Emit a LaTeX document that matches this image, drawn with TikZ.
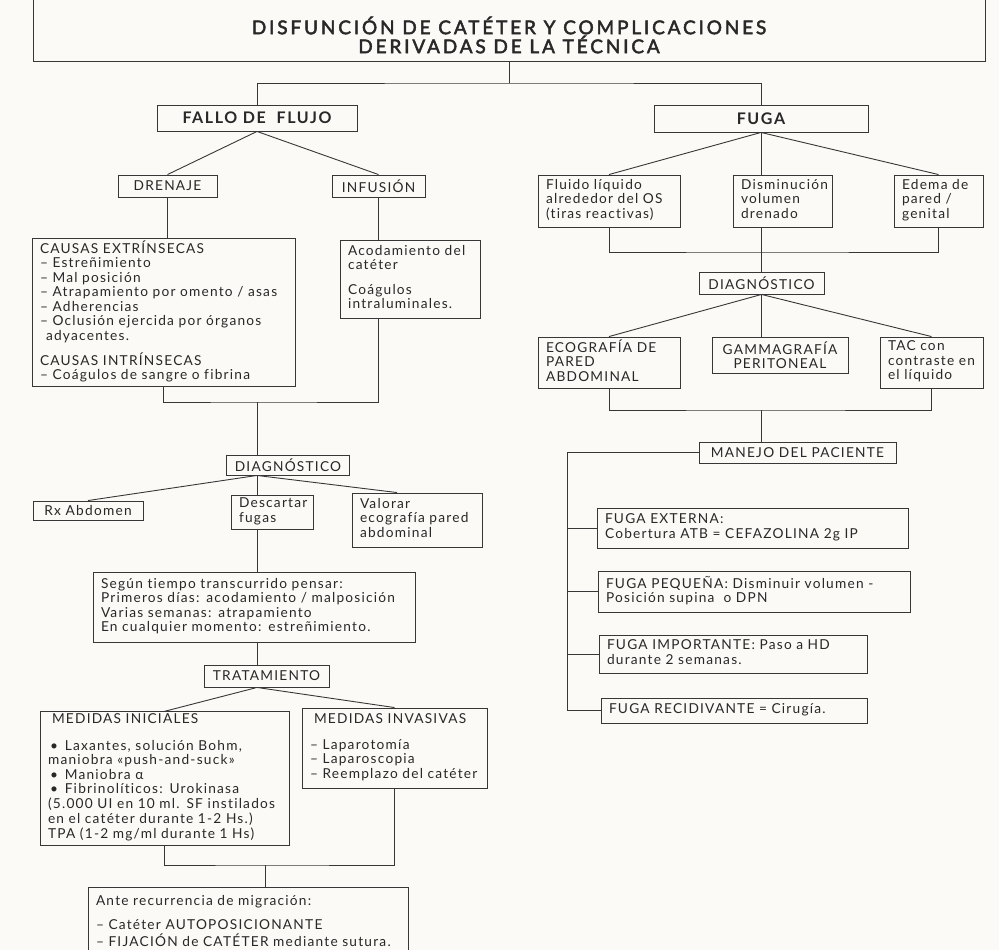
\documentclass[tikz,border=0pt]{standalone}
\usepackage{fontspec}
\setmainfont{Lato}
\newfontfamily\bodyf[LetterSpace=9,Ligatures=NoCommon]{Lato}
\newfontfamily\boldf[LetterSpace=10,Ligatures=NoCommon]{Lato Bold}
\newfontfamily\titlef[LetterSpace=15,FakeBold=2.5,Ligatures=NoCommon]{Lato}
\newcommand\tb[1]{\begin{tabular}{@{}l@{}}#1\end{tabular}}
\definecolor{ink}{RGB}{40,40,40}
\definecolor{linec}{RGB}{55,55,55}
\definecolor{paper}{RGB}{252,250,247}
\begin{document}
\begin{tikzpicture}[x=1pt,y=-1pt,
  box/.style={draw=linec, line width=0.9pt, text=ink, inner xsep=8pt, inner ysep=2pt,
    font=\bodyf\fontsize{13.7}{14.5}\selectfont},
  lbox/.style={box, align=left},
  cbox/.style={box, align=center},
  bigbox/.style={cbox, font=\boldf\fontsize{16}{18}\selectfont},
  conn/.style={draw=linec, line width=0.9pt}]
\fill[paper] (0,0) rectangle (999,950);
\useasboundingbox (0,0) rectangle (999,950);

% title
\node[draw=linec, line width=0.9pt, minimum width=952pt, minimum height=80pt, inner sep=0pt] (titlebox) at (509,21) {};
\node[text=ink, font=\titlef\fontsize{19}{19}\selectfont, align=center] (title) at (509,35)
  {DISFUNCIÓN DE CATÉTER Y COMPLICACIONES\\DERIVADAS DE LA TÉCNICA};

% left branch
\node[bigbox, minimum width=200pt, minimum height=26pt] (fallo) at (257,118) {FALLO DE \ FLUJO};
\node[cbox, minimum width=99pt, minimum height=22pt] (drenaje) at (167.5,186) {DRENAJE};
\node[cbox, minimum width=93pt, minimum height=22pt] (infusion) at (378.5,186) {INFUSIÓN};
\node[lbox, text width=247pt, minimum height=145pt] (causas) at (163.5,312.5)
  {\tb{CAUSAS EXTRÍNSECAS\\– Estreñimiento\\– Mal posición\\– Atrapamiento por omento / asas\\– Adherencias\\– Oclusión ejercida por órganos\\\hspace*{6pt}adyacentes.\\[8pt]CAUSAS INTRÍNSECAS\\– Coágulos de sangre o fibrina}};
\node[lbox, text width=124pt, minimum height=78pt] (acod) at (410,279)
  {\tb{Acodamiento del\\catéter\\[10pt]Coágulos\\intraluminales.}};
\node[cbox, minimum width=120pt, minimum height=20pt] (diagL) at (288,465) {DIAGNÓSTICO};
\node[cbox, minimum width=110pt, minimum height=19pt] (rx) at (88,510.5) {Rx Abdomen};
\node[lbox, text width=66pt, minimum height=34pt] (desc) at (272,512) {\tb{Descartar\\fugas}};
\node[lbox, text width=114pt, minimum height=54pt] (val) at (417,520) {\tb{Valorar\\ecografía pared\\abdominal}};
\node[lbox, text width=306pt, minimum height=70pt] (segun) at (254,607)
  {\tb{Según tiempo transcurrido pensar:\\Primeros días: acodamiento / malposición\\Varias semanas: atrapamiento\\En cualquier momento: estreñimiento.}};
\node[cbox, minimum width=125pt, minimum height=22pt] (trat) at (266.5,676) {TRATAMIENTO};
\node[lbox, text width=233pt, minimum height=133pt] (mi) at (164.5,778.5)
  {\tb{\hspace*{4pt}MEDIDAS INICIALES\\[12pt]\hspace*{2pt}• \,Laxantes, solución Bohm,\\maniobra «push-and-suck»\\\hspace*{2pt}• \,Maniobra α\\\hspace*{2pt}• \,Fibrinolíticos: Urokinasa\\(5.000 UI en 10 ml. SF instilados\\en el catéter durante 1-2 Hs.)\\TPA (1-2 mg/ml durante 1 Hs)}};
\node[lbox, text width=169pt, minimum height=80pt] (minv) at (394.5,748)
  {\tb{\hspace*{4pt}MEDIDAS INVASIVAS\\[11pt]– Laparotomía\\– Laparoscopia\\– Reemplazo del catéter}};
\node[lbox, text width=304pt, minimum height=72pt] (ante) at (248,923)
  {\tb{Ante recurrencia de migración:\\[9pt]– Catéter AUTOPOSICIONANTE\\– FIJACIÓN de CATÉTER mediante sutura.}};

% right branch
\node[bigbox, minimum width=214pt, minimum height=27pt] (fuga) at (761,118.5) {FUGA};
\node[lbox, text width=126pt, minimum height=52pt] (fluido) at (609,201) {\tb{Fluido líquido\\alrededor del OS\\(tiras reactivas)}};
\node[lbox, text width=83pt, minimum height=52pt] (dism) at (782.5,201) {\tb{Disminución\\volumen\\drenado}};
\node[lbox, text width=73pt, minimum height=52pt] (edema) at (938.5,201) {\tb{Edema de\\pared /\\genital}};
\node[cbox, minimum width=125pt, minimum height=22pt] (diagR) at (761.5,283) {DIAGNÓSTICO};
\node[lbox, text width=126pt, minimum height=51pt] (eco) at (609,362.5) {\tb{ECOGRAFÍA DE\\PARED\\ABDOMINAL}};
\node[cbox, minimum width=136pt, minimum height=36pt] (gamma) at (780,355) {GAMMAGRAFÍA\\PERITONEAL};
\node[lbox, text width=87pt, minimum height=51pt] (tac) at (931.5,362.5) {\tb{TAC con\\contraste en\\el líquido}};
\node[cbox, minimum width=197pt, minimum height=21pt] (manejo) at (797.5,452.5) {MANEJO DEL PACIENTE};
\node[lbox, text width=295pt, minimum height=40pt] (fext) at (752.5,528) {\tb{FUGA EXTERNA:\\Cobertura ATB = CEFAZOLINA 2g IP}};
\node[lbox, text width=296pt, minimum height=41pt] (fpeq) at (754,591.5) {\tb{FUGA PEQUEÑA: Disminuir volumen -\\Posición supina \ o DPN}};
\node[lbox, text width=252pt, minimum height=38pt] (fimp) at (733,654) {\tb{FUGA IMPORTANTE: Paso a HD\\durante 2 semanas.}};
\node[lbox, text width=250pt, minimum height=25pt] (frec) at (734,710.5) {\tb{FUGA RECIDIVANTE = Cirugía.}};

% junction coordinates
\coordinate (tj) at (509,83);
\coordinate (lj) at (257,402);
\coordinate (lj2) at (265,865);
\coordinate (rj1) at (761,252);
\coordinate (rj2) at (761,410);
\coordinate (tr) at (567,0);

% connectors: top
\draw[conn] (titlebox.south) -- (tj);
\draw[conn] (fallo.north) |- (tj) -| (fuga.north);
% left
\draw[conn] (fallo.south) -- (drenaje.north);
\draw[conn] (fallo.south) -- (infusion.north);
\draw[conn] (drenaje.south) -- (drenaje.south |- causas.north);
\draw[conn] (infusion.south) -- (infusion.south |- acod.north);
\draw[conn] (causas.south) |- (lj) -| (infusion.south |- acod.south);
\draw[conn] (lj) -- (lj |- diagL.north);
\draw[conn] (lj |- diagL.south) -- (rx.north);
\draw[conn] (lj |- diagL.south) -- (lj |- desc.north);
\draw[conn] (lj |- diagL.south) -- ([xshift=-20pt]val.north);
\draw[conn] (lj |- desc.south) -- (lj |- segun.north);
\draw[conn] (lj |- segun.south) -- (lj |- trat.north);
\draw[conn] (lj |- trat.south) -- (mi.north);
\draw[conn] (lj |- trat.south) -- (minv.north);
\draw[conn] (mi.south) |- (lj2) -| (minv.south);
\draw[conn] (lj2) -- (lj2 |- ante.north);
% right
\draw[conn] (fuga.south) -- (fluido.north);
\draw[conn] (fuga.south) -- (fuga.south |- dism.north);
\draw[conn] (fuga.south) -- (edema.north);
\draw[conn] (fluido.south) |- (rj1) -| (edema.south);
\draw[conn] (rj1 |- dism.south) -- (rj1 |- diagR.north);
\draw[conn] (diagR.south) -- (eco.north);
\draw[conn] (diagR.south) -- (diagR.south |- gamma.north);
\draw[conn] (diagR.south) -- (tac.north);
\draw[conn] (eco.south) |- (rj2) -| (tac.south);
\draw[conn] (rj2) -- (rj2 |- manejo.north);
\draw[conn] (manejo.west) -| (tr |- frec.west) -- (frec.west);
\draw[conn] (tr |- fext.west) -- (fext.west);
\draw[conn] (tr |- fpeq.west) -- (fpeq.west);
\draw[conn] (tr |- fimp.west) -- (fimp.west);
\end{tikzpicture}
\end{document}
